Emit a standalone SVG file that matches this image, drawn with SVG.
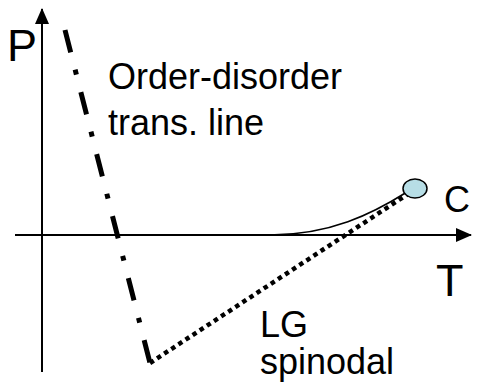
<svg xmlns="http://www.w3.org/2000/svg" width="484" height="388" viewBox="0 0 484 388">
<style>
text{font-family:"Liberation Sans",Arial,sans-serif;fill:#000}
.axis{stroke:#000;stroke-width:2;fill:none}
.lbl{font-size:36px}
.big{font-size:45px}
</style>
<defs>
<marker id="arr" viewBox="0 0 16 14" refX="15" refY="7" markerWidth="16" markerHeight="14" markerUnits="userSpaceOnUse" orient="auto">
<path d="M0,0 L16,7 L0,14 Z" fill="#000"/>
</marker>
</defs>
<rect width="484" height="388" fill="#fff"/>
<g id="axes">
<line class="axis" x1="42" y1="372" x2="42" y2="9" marker-end="url(#arr)"/>
<line class="axis" x1="15" y1="235" x2="471" y2="235" marker-end="url(#arr)"/>
</g>
<g id="connectors">
<path d="M100,235 L270,235 C330,235 372,214 407,192" fill="none" stroke="#000" stroke-width="1.6"/>
<line x1="65" y1="30" x2="150" y2="363" stroke="#000" stroke-width="5" stroke-dasharray="23 18 5 18"/>
<line x1="150" y1="363" x2="408" y2="194" stroke="#000" stroke-width="4.5" stroke-dasharray="4.5 4"/>
</g>
<g id="C-point">
<ellipse cx="415" cy="188.5" rx="12" ry="9.5" fill="#b7dee6" stroke="#000" stroke-width="1.5"/>
</g>
<g id="labels">
<text class="big" x="7" y="61">P</text>
<text class="big" x="436" y="296">T</text>
<text class="lbl" x="444" y="212">C</text>
<text class="lbl" x="108" y="89">Order-disorder</text>
<text class="lbl" x="108" y="135">trans. line</text>
<text class="lbl" x="260" y="337">LG</text>
<text class="lbl" x="260" y="374">spinodal</text>
</g>
</svg>
